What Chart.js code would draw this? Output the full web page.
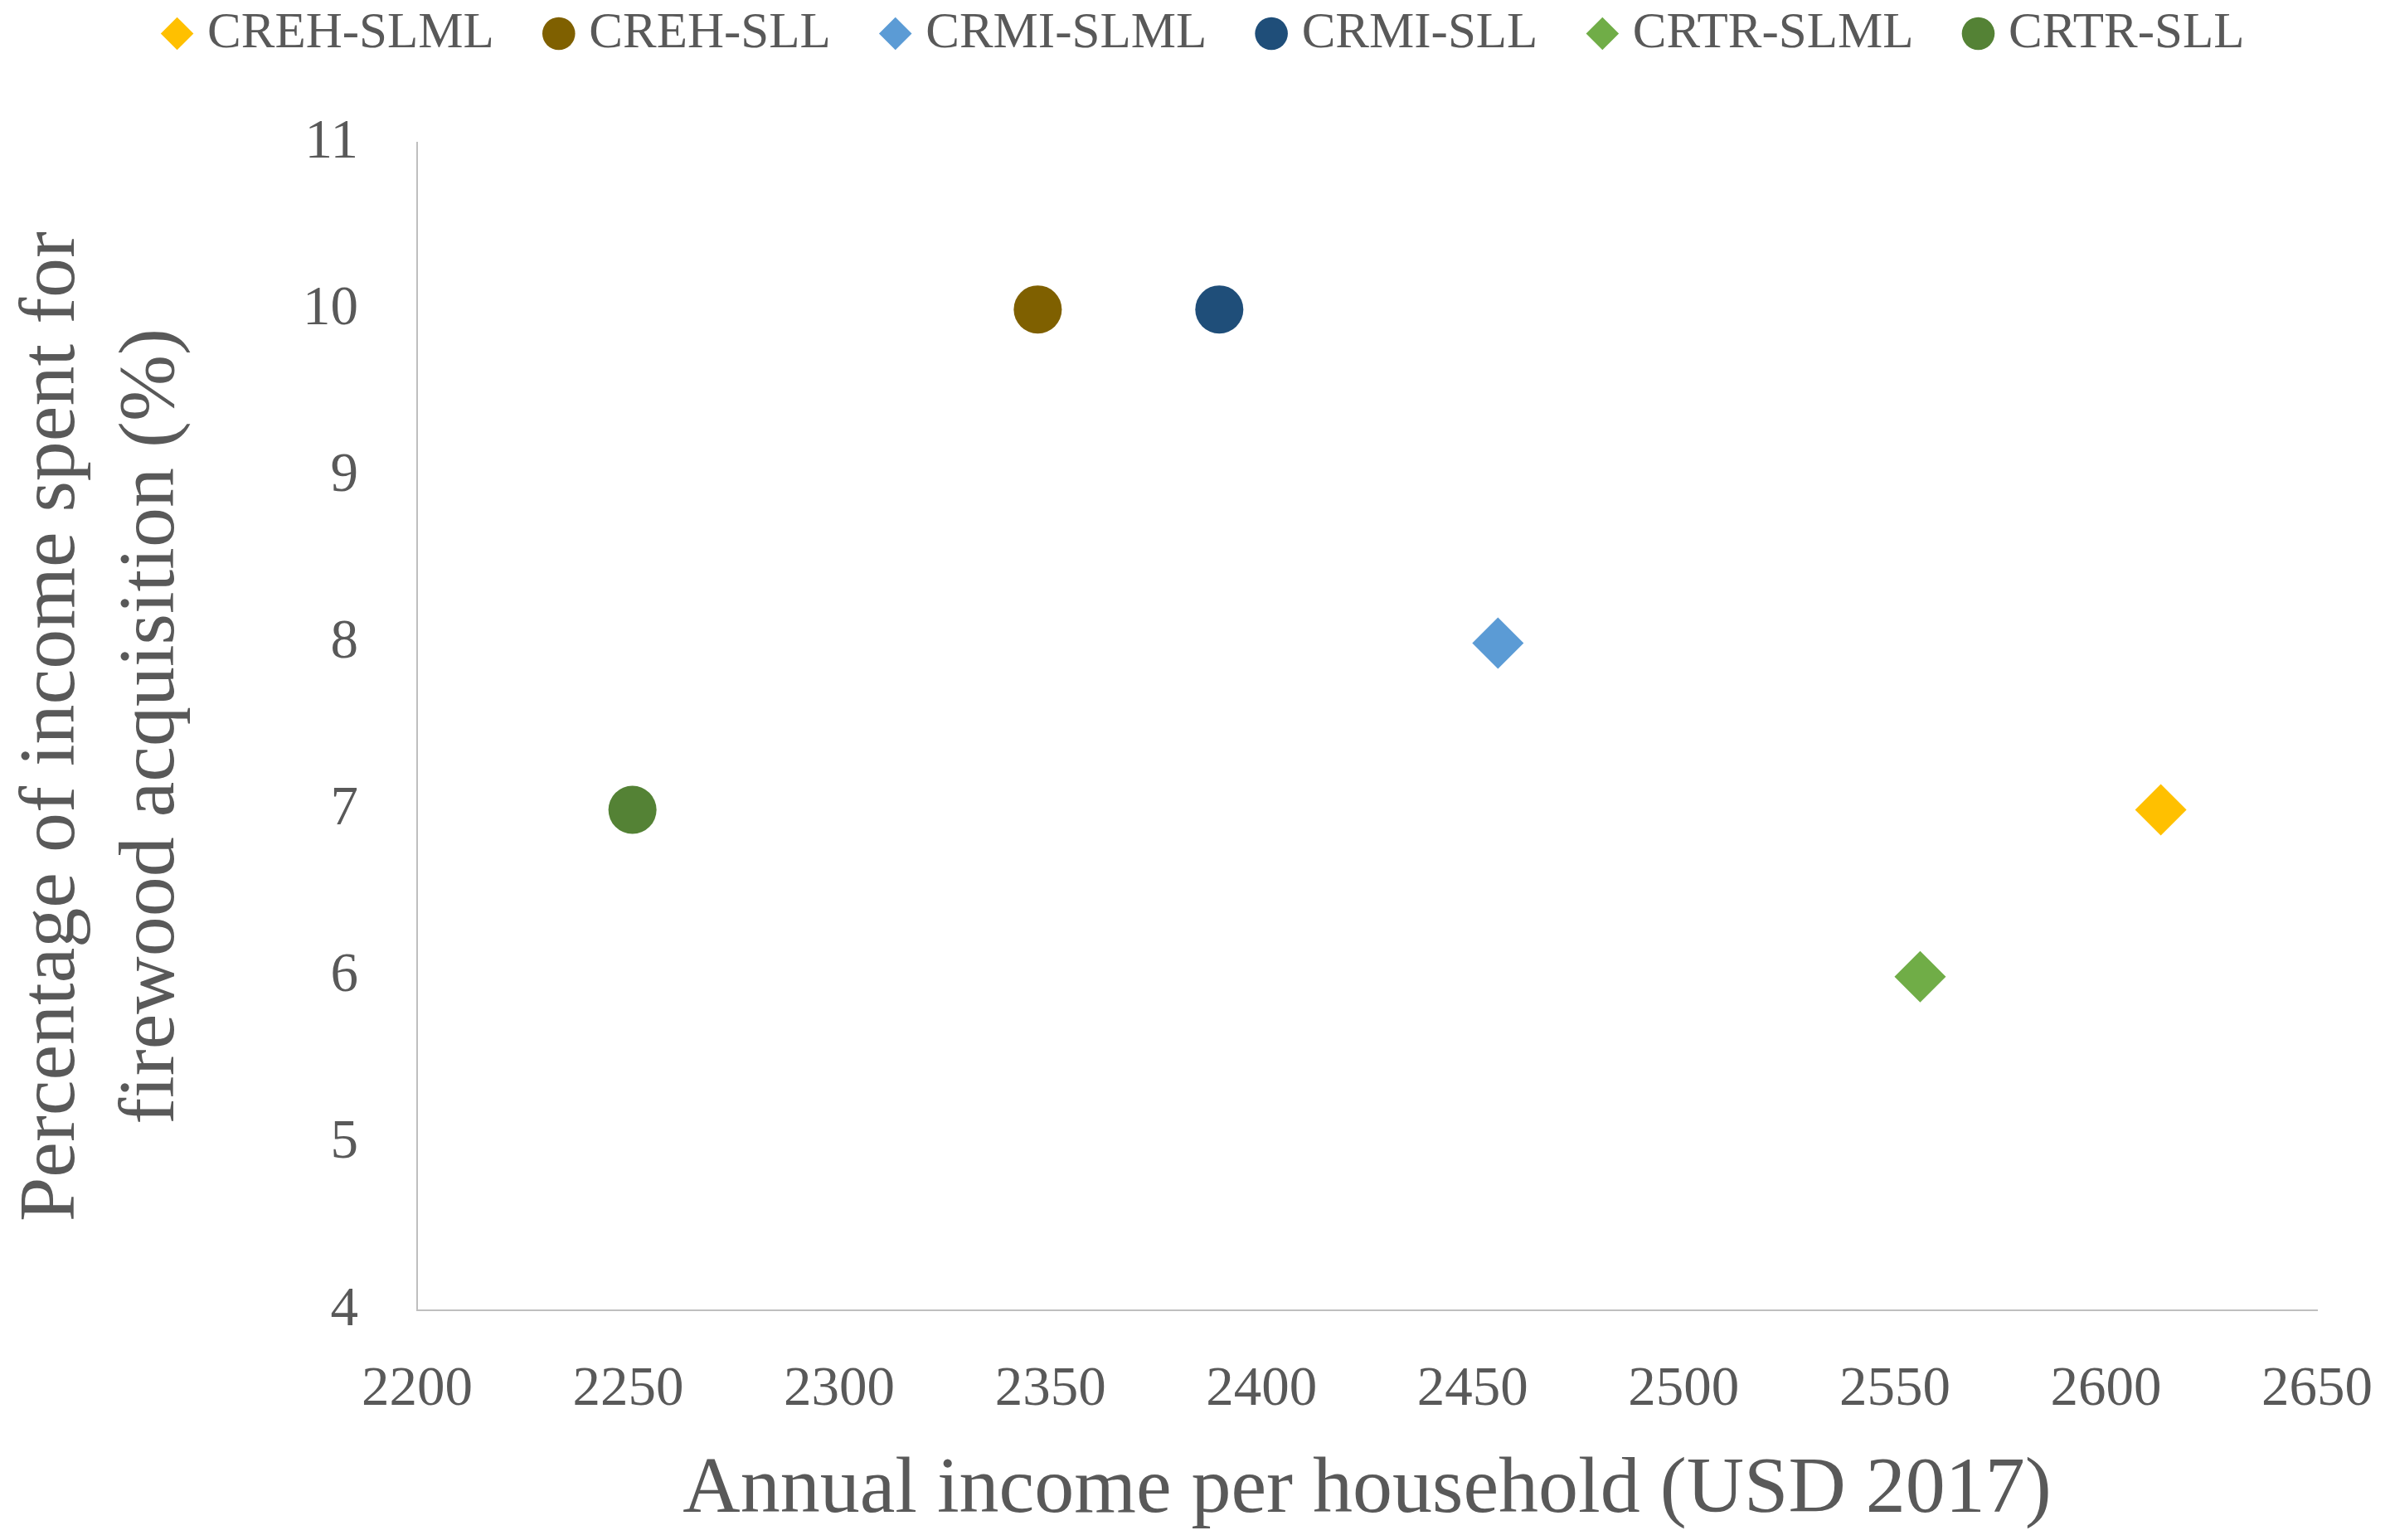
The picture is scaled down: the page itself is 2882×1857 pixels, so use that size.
<!DOCTYPE html>
<html>
<head>
<meta charset="utf-8">
<script src="https://cdn.jsdelivr.net/npm/chart.js@4/dist/chart.umd.min.js"></script>
<style>
  body { margin: 0; background: #ffffff; }
</style>
</head>
<body>
<canvas id="incomeChart" width="2882" height="1857"></canvas>
<script>
// Data
var seriesNames = ['CREH-SLML', 'CREH-SLL', 'CRMI-SLML', 'CRMI-SLL', 'CRTR-SLML', 'CRTR-SLL'];
var incomeValues = [2613, 2347, 2456, 2390, 2556, 2251];
var percentValues = [7, 10, 8, 10, 6, 7];
var xTicks = [2200, 2250, 2300, 2350, 2400, 2450, 2500, 2550, 2600, 2650];
var yTicks = [4, 5, 6, 7, 8, 9, 10, 11];

var colors = ['#FFC000', '#7F6000', '#5B9BD5', '#1F4E79', '#70AD47', '#548235'];
var shapes = ['rectRot', 'circle', 'rectRot', 'circle', 'rectRot', 'circle'];

var textColor = '#595959';
var fontFamily = '"Liberation Serif", "DejaVu Serif", serif';

// one dataset per series so each gets its own legend entry
var datasets = seriesNames.map(function(name, i) {
  return {
    label: name,
    data: [{ x: incomeValues[i], y: percentValues[i] }],
    backgroundColor: colors[i],
    borderColor: colors[i],
    borderWidth: 0,
    pointStyle: shapes[i],
    pointRadius: shapes[i] === 'circle' ? 29 : 31,
    pointHoverRadius: shapes[i] === 'circle' ? 29 : 31
  };
});

// legend sits higher and a bit to the right in the original
var legendNudge = {
  id: 'legendNudge',
  afterLayout: function(chart) {
    var lg = chart.legend;
    lg.top -= 91;
    lg.bottom -= 91;
    lg.left += 60;
    lg.right += 60;
  }
};

var plainNumber = function(value) {
  return String(value);
};

var ctx = document.getElementById('incomeChart').getContext('2d');
new Chart(ctx, {
  type: 'scatter',
  data: { datasets: datasets },
  plugins: [legendNudge],
  options: {
    responsive: false,
    animation: false,
    layout: { padding: { left: 0, right: 88, top: 29, bottom: 11 } },
    plugins: {
      legend: {
        position: 'top',
        labels: {
          usePointStyle: true,
          boxWidth: 12,
          boxHeight: 28,
          padding: 72,
          color: textColor,
          font: { family: fontFamily, size: 61 }
        }
      },
      tooltip: { enabled: false }
    },
    scales: {
      x: {
        type: 'linear',
        min: 2200,
        max: 2650,
        afterBuildTicks: function(scale) {
          scale.ticks = xTicks.map(function(v) { return { value: v }; });
        },
        grid: { display: false, drawTicks: true, tickLength: 43 },
        border: { display: true, color: '#BFBFBF', width: 2 },
        ticks: {
          padding: 20,
          color: textColor,
          callback: plainNumber,
          font: { family: fontFamily, size: 67, lineHeight: 1 }
        },
        title: {
          display: true,
          text: 'Annual income per household (USD 2017)',
          color: textColor,
          padding: { top: 20, bottom: 0 },
          font: { family: fontFamily, size: 96, lineHeight: 1 }
        }
      },
      y: {
        type: 'linear',
        min: 4,
        max: 11,
        afterBuildTicks: function(scale) {
          scale.ticks = yTicks.map(function(v) { return { value: v }; });
        },
        grid: { display: false, drawTicks: false },
        border: { display: true, color: '#BFBFBF', width: 2 },
        ticks: {
          padding: 71,
          color: textColor,
          callback: plainNumber,
          font: { family: fontFamily, size: 67, lineHeight: 1 }
        },
        title: {
          display: true,
          text: ['Percentage of income spent for', 'firewood acquisition (%)'],
          color: textColor,
          padding: { top: 4, bottom: 50 },
          font: { family: fontFamily, size: 96, lineHeight: 1.25 }
        }
      }
    }
  }
});
</script>
</body>
</html>
